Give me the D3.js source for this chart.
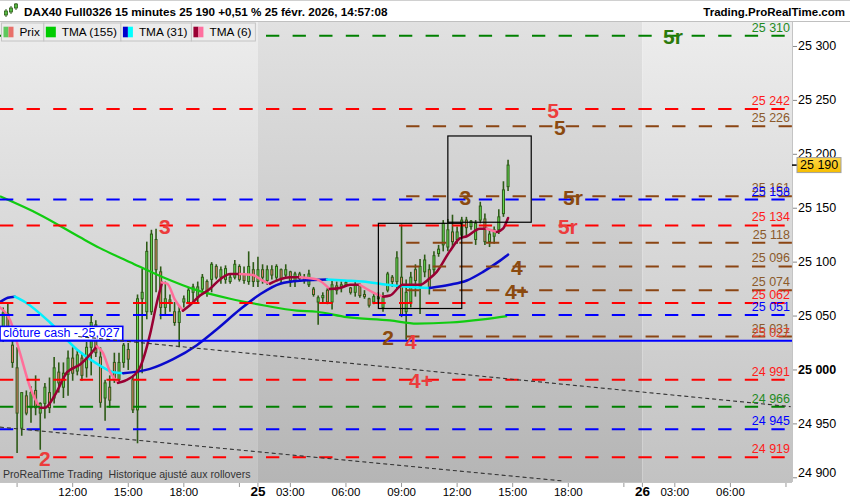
<!DOCTYPE html>
<html><head><meta charset="utf-8">
<script src="https://cdn.jsdelivr.net/npm/d3@7"></script>
<style>
html,body{margin:0;padding:0;background:#fff;}
svg{display:block;font-family:"Liberation Sans",Arial,sans-serif;}
</style></head><body>
<svg id="c" width="850" height="500"></svg>
<script>
// ---------------- DATA ----------------
const title = "DAX40 Full0326 15 minutes 25 190 +0,51 % 25 févr. 2026, 14:57:08";
const brand = "Trading.ProRealTime.com";
const footNote = "ProRealTime Trading  Historique ajusté aux rollovers";
const legendNames = ["Prix", "TMA (155)", "TMA (31)", "TMA (6)"];
const lastPrice = 25190;

// 15-minute candles, first bar = 24 Feb 08:15 (session 01:15-22:00)
const opens = [25035,25052,25023,25002,24946,24976,24965,24981,24960,24969,24979,24974,24998,24984,24996,25011,24999,25011,25002,25021,25042,25012,24974,24984,25007,24991,25007,25019,24991,24963,25066,25054,25054,25121,25091,25058,25065,25054,25044,25063,25063,25072,25068,25075,25082,25084,25096,25086,25084,25082,25086,25096,25089,25082,25093,
 25082,25093,25083,25093,25086,25093,25088,25091,25082,25089,25085,25079,25075,25063,25067,25074,25063,25078,25077,25079,25076,25072,25078,25070,25066,25063,25069,25058,25074,25086,25082,25086,25054,25063,25093,25077,25091,25093,25093,25108,25116,25114,25128,25121,25125,25139,25133,25121,25139,25140,25119,25124,25130,25145,25170];
const highs = [25058,25063,25030,25021,24979,24981,24985,24995,24970,24988,24993,25012,25007,25007,25018,25021,25018,25016,25026,25051,25046,25021,24991,24995,25016,25016,25025,25025,24995,25070,25094,25119,25130,25131,25096,25082,25070,25063,25060,25069,25077,25080,25082,25089,25084,25100,25098,25096,25097,25089,25102,25098,25096,25110,25100,
 25105,25098,25097,25097,25098,25094,25098,25092,25091,25091,25089,25093,25077,25069,25072,25076,25083,25082,25082,25083,25077,25082,25080,25074,25067,25071,25072,25072,25091,25088,25110,25135,25084,25091,25098,25103,25107,25098,25110,25116,25139,25140,25144,25133,25142,25142,25139,25139,25156,25145,25130,25133,25149,25175,25195];
const lows = [25026,25035,25002,24923,24939,24958,24951,24958,24926,24955,24960,24969,24979,24974,24976,24990,24995,24990,24993,24995,25012,24965,24953,24965,24988,24988,25002,25000,24960,24932,24997,25047,25051,25072,25047,25051,25054,25041,25021,25058,25061,25063,25063,25072,25068,25072,25084,25080,25080,25080,25084,25082,25080,25079,25077,
 25077,25080,25079,25084,25082,25080,25086,25077,25077,25082,25080,25077,25068,25042,25063,25061,25056,25070,25072,25077,25070,25068,25067,25066,25058,25061,25063,25054,25072,25077,25075,25049,25028,25058,25068,25052,25086,25070,25089,25105,25110,25110,25114,25117,25122,25125,25130,25116,25136,25116,25114,25117,25126,25142,25166];
const closes = [25053,25040,25007,24960,24979,24960,24979,24965,24969,24984,24965,25002,24988,24997,25011,24997,25014,24995,25021,25044,25016,24970,24988,24972,24991,25007,25023,25010,24963,25066,25072,25110,25126,25093,25058,25066,25063,25044,25054,25066,25074,25077,25077,25086,25072,25098,25086,25093,25094,25086,25098,25084,25083,25096,25082,
 25093,25086,25093,25088,25096,25085,25093,25083,25089,25085,25083,25089,25070,25067,25069,25063,25079,25074,25079,25081,25072,25079,25069,25068,25060,25068,25066,25069,25089,25082,25104,25051,25072,25086,25083,25096,25102,25077,25106,25112,25136,25130,25119,25128,25139,25132,25138,25136,25152,25119,25126,25130,25142,25167,25190];

// moving averages (bar position, value)
const tma6Bars = [-0.7,1.5,3.6,5.8,7.9,9.0,11.2,13.8,16.6,18.7,20.2,21.5,23.1,24.8,26.3,28.5,29.5,31.7,33.2,34.3,35.4,37.1,38.8,40.3,42.5,44.6,46.8,49.0,51.1,53.9,55.9,57.6,59.7,61.9,64.1,67.7,70.5,72.7,74.9,77.0,79.8,82.0,83.5,86.3,90.0,92.1,93.6,96.4,98.6,100.1,102.9,104.4,106.6,107.9,109.0];
const tma6Vals = [25058,25046,25016,24984,24965,24965,24977,24998,25005,25014,25022,25016,24998,24988,24990,24996,25002,25033,25063,25081,25080,25065,25055,25060,25069,25075,25084,25089,25089,25088,25083,25080,25084,25086,25086,25084,25075,25076,25079,25079,25072,25068,25069,25079,25079,25085,25091,25110,25122,25124,25131,25131,25128,25131,25141];
const tma31Bars = [-0.7,1.0,2.5,4.7,10.1,15.9,20.9,23.7,25.9,31.7,36.7,41.8,46.2,51.1,55.4,59.8,64.7,69.9,73.8,77.7,82.9,87.8,92.1,96.4,100.1,103.6,106.8,109.0];
const tma31Vals = [25063,25067,25068,25063,25044,25019,25004,24998,24997,25001,25010,25023,25038,25056,25070,25080,25083,25084,25083,25082,25079,25077,25076,25079,25083,25091,25100,25107];
const tma155Bars = [-0.7,7.9,16.6,20.9,27.4,34.5,41.8,49.0,56.1,63.4,67.7,74.2,83.5,89.3,96.4,103.6,108.8];
const tma155Vals = [25161,25144,25123,25113,25100,25086,25074,25066,25060,25055,25054,25049,25046,25043,25044,25047,25050];

// horizontal levels
const levelValues = [25310,25242,25226,25161,25158,25134,25118,25096,25074,25062,25051,25031,25027,24991,24966,24945,24919];
const levelKinds  = ["green","red","brown","brown","blue","red","brown","brown","brown","red","blue","brown","cash","red","green","blue","red"];
const brownFrom = {day:25, time:"09:15"};
const cashText = "clôture cash - 25,027";

// level marks
const markTexts  = ["5r","5","5","5r","3","5r","3","4","4+","2","4","4+","2"];
const markKinds  = ["green","red","brown","brown","brown","red","red","brown","brown","brown","red","red","red"];
const markBars   = [144.6,118.7,120.2,123.0,99.8,121.9,34.9,110.9,110.9,83.1,88.0,90.2,9.0];
const markValues = [25310,25242,25226,25161,25161,25134,25134,25096,25074,25031,25027,24991,24919];

// rectangles
const boxFrom = [81, 96], boxTo = [99, 114], boxLow = [25057, 25137], boxHigh = [25136, 25217];
// trend lines
const trendFromBar = [16.2, -0.7], trendFromVal = [25031, 24947];
const trendToBar = [170, 121],   trendToVal = [24966, 24897];

// axes
const yTicks = [24900,24950,25000,25050,25100,25150,25200,25250,25300];
const xTickDays  = [24,24,24,24,24,25,25,25,25,25,25,25,25,26,26,26,26];
const xTickTimes = ["09:00","12:00","15:00","18:00","21:00","01:15","03:00","06:00","09:00","12:00","15:00","18:00","21:00","01:15","03:00","06:00","09:00"];
const xTickLabels= ["","12:00","15:00","18:00","","25","03:00","06:00","09:00","12:00","15:00","18:00","","26","03:00","06:00",""];

// ---------------- CHART ----------------
const W=850,H=500,PL=0,PR=792,PT=22,PB=482;
function barOf(day, hhmm){ const [h,m]=hhmm.split(":").map(Number); return ((day-24)*20.75 + h + m/60 - 8.25)*4; }
const x = d3.scaleLinear().domain([-0.69,170.3]).range([PL,PR]);
const y = d3.scaleLinear().domain([24896.1,25322.7]).range([PB,PT]);
const fmt = v => d3.format(",")(v).replace(/,/g," ");

const lineColor = {green:"#008000", red:"#ff0000", brown:"#8b4513", blue:"#0000ff", cash:"#0000ff"};
const textColor = {green:"#1f8a1f", red:"#ff1a1a", brown:"#8b5a2b", blue:"#0000ff", cash:"#e0402a"};
const markColor = {green:"#2b7a0b", red:"#ec3c3c", brown:"#8b4a0f"};

const svg = d3.select("#c");
const defs = svg.append("defs");
function grad(id,c1,c2){const g=defs.append("linearGradient").attr("id",id).attr("x1",0).attr("y1",0).attr("x2",0).attr("y2",1);
 g.append("stop").attr("offset","0%").attr("stop-color",c1); g.append("stop").attr("offset","100%").attr("stop-color",c2);}
grad("gLight","#ededed","#c2c2c2");
grad("gDark","#e1e1e1","#b5b5b5");
grad("gTag","#ffd84a","#f5bd00");
defs.append("clipPath").attr("id","pc").append("rect").attr("x",PL).attr("y",PT).attr("width",PR-PL).attr("height",PB-PT);

svg.append("rect").attr("width",W).attr("height",H).attr("fill","#fff");
const plot = svg.append("g").attr("clip-path","url(#pc)");

// background day bands
const bnds=[PL, x(barOf(25,"01:15")), x(barOf(26,"01:15")), PR];
[0,1,2].forEach(k=>plot.append("rect").attr("x",bnds[k]).attr("y",PT).attr("width",bnds[k+1]-bnds[k]).attr("height",PB-PT)
  .attr("fill",k===1?"url(#gDark)":"url(#gLight)"));

// candles
const candles = opens.map((o,i)=>({i,o,h:highs[i],l:lows[i],c:closes[i]}));
const cg = plot.append("g");
cg.selectAll("line").data(candles).join("line")
  .attr("x1",d=>x(d.i)).attr("x2",d=>x(d.i)).attr("y1",d=>y(d.h)).attr("y2",d=>y(d.l))
  .attr("stroke","#2d5a16").attr("stroke-width",1.6);
cg.selectAll("rect").data(candles).join("rect")
  .attr("x",d=>x(d.i)-1).attr("width",2)
  .attr("y",d=>y(Math.max(d.o,d.c))).attr("height",d=>Math.max(1,Math.abs(y(d.o)-y(d.c))))
  .attr("fill",d=>d.c>=d.o?"#66dd55":"#e8806e").attr("stroke","#2d5a16").attr("stroke-width",1);

// moving averages
const lineGen = d3.line().x(d=>x(d[0])).y(d=>y(d[1])).curve(d3.curveMonotoneX);
function runs(bars,vals){
  const pts=bars.map((b,i)=>[b,vals[i]]); const out=[]; let cur=[pts[0]], dir=null;
  for(let k=1;k<pts.length;k++){
    const d = pts[k][1]>=pts[k-1][1]?1:-1;
    if(dir===null||d===dir){cur.push(pts[k]);dir=d;}
    else {out.push({dir,pts:cur}); cur=[pts[k-1],pts[k]]; dir=d;}
  }
  out.push({dir,pts:cur}); return out;
}
function drawMA(bars,vals,up,down,w){
  runs(bars,vals).forEach(r=>plot.append("path").attr("d",lineGen(r.pts)).attr("fill","none")
    .attr("stroke",r.dir>0?up:down).attr("stroke-width",w).attr("stroke-linejoin","round").attr("stroke-linecap","round"));
}
plot.append("path").attr("d",lineGen(tma155Bars.map((b,i)=>[b,tma155Vals[i]]))).attr("fill","none").attr("stroke","#11cc11").attr("stroke-width",2.2);
drawMA(tma31Bars,tma31Vals,"#0a0acc","#00f0ff",2.5);
drawMA(tma6Bars,tma6Vals,"#990033","#ff6f9a",2.5);

// horizontal levels
const brownStart = barOf(brownFrom.day, brownFrom.time);
levelValues.forEach((v,k)=>{
  const kind=levelKinds[k];
  const x0 = kind==="brown"? x(brownStart) : PL;
  const ln = plot.append("line").attr("x1",x0).attr("x2",PR).attr("y1",y(v)).attr("y2",y(v))
    .attr("stroke",lineColor[kind]).attr("stroke-width",2);
  if(kind!=="cash") ln.attr("stroke-dasharray","13.3,13.3");
});

// cash label
const cashY = y(levelValues[levelKinds.indexOf("cash")]);
const cashG = plot.append("g");
const cashTxt = cashG.append("text").attr("x",3).attr("y",cashY-3.5).attr("font-size",12.5).attr("fill","#0000ff").text(cashText);
const tw = cashTxt.node().getComputedTextLength();
cashG.insert("rect","text").attr("x",0).attr("y",cashY-14.5).attr("width",tw+6).attr("height",14)
  .attr("fill","#fff").attr("stroke","#0000ff").attr("stroke-width",1.6);

// trend lines
trendFromBar.forEach((b,k)=>plot.append("line").attr("x1",x(b)).attr("y1",y(trendFromVal[k]))
  .attr("x2",x(trendToBar[k])).attr("y2",y(trendToVal[k])).attr("stroke","#333").attr("stroke-width",1.1).attr("stroke-dasharray","4,3"));

// boxes
boxFrom.forEach((b,k)=>plot.append("rect").attr("x",x(b)).attr("y",y(boxHigh[k])).attr("width",x(boxTo[k])-x(b))
  .attr("height",y(boxLow[k])-y(boxHigh[k])).attr("fill","none").attr("stroke","#000").attr("stroke-width",1.2));

// level value labels at right
levelValues.forEach((v,k)=>plot.append("text").attr("x",790).attr("y",y(v)-4).attr("text-anchor","end")
  .attr("font-size",12.5).attr("fill",textColor[levelKinds[k]]).text(fmt(v)));

// big marks
markTexts.forEach((t,k)=>plot.append("text").attr("x",x(markBars[k])).attr("y",y(markValues[k])+1)
  .attr("text-anchor","middle").attr("dominant-baseline","central").attr("font-size",21).attr("font-weight","bold")
  .attr("fill",markColor[markKinds[k]]).text(t));

// foot note
plot.append("text").attr("x",3).attr("y",478).attr("font-size",10.6).attr("fill","#333").style("white-space","pre").text(footNote);

// axis frames
svg.append("line").attr("x1",PR+0.5).attr("x2",PR+0.5).attr("y1",PT).attr("y2",PB).attr("stroke","#c4c4c4");
svg.append("line").attr("x1",0).attr("x2",PR).attr("y1",PB+0.5).attr("y2",PB+0.5).attr("stroke","#c4c4c4");

// y axis
yTicks.forEach(v=>{
  const yy=y(v);
  svg.append("line").attr("x1",PR+1).attr("x2",PR+5).attr("y1",yy).attr("y2",yy).attr("stroke","#888");
  svg.append("text").attr("x",798).attr("y",Math.min(yy,473)).attr("dominant-baseline","central")
    .attr("font-size",12.5).attr("font-weight",v===25000?"bold":"normal").attr("fill","#000").text(fmt(v));
});
// last price tag
const ly=y(lastPrice);
svg.append("line").attr("x1",PR).attr("x2",797).attr("y1",ly).attr("y2",ly).attr("stroke","#000").attr("stroke-width",1.5);
svg.append("rect").attr("x",797).attr("y",ly-7.5).attr("width",44).attr("height",15).attr("fill","url(#gTag)").attr("stroke","#a0a0a0");
svg.append("text").attr("x",800).attr("y",ly).attr("dominant-baseline","central").attr("font-size",12.5).attr("fill","#000").text(fmt(lastPrice));

// x axis
xTickDays.forEach((d,k)=>{
  const xx=x(barOf(d,xTickTimes[k]));
  svg.append("line").attr("x1",xx).attr("x2",xx).attr("y1",PB+1).attr("y2",PB+5).attr("stroke","#999");
  if(xTickLabels[k]) svg.append("text").attr("x",xx).attr("y",496).attr("text-anchor","middle")
    .attr("font-size",xTickLabels[k].includes(":")?11.5:13.5).attr("font-weight",xTickLabels[k].includes(":")?"normal":"bold")
    .attr("fill","#000").text(xTickLabels[k]);
});

// header
svg.append("rect").attr("x",0).attr("y",0).attr("width",W).attr("height",PT).attr("fill","#fff");
svg.append("line").attr("x1",0).attr("x2",W).attr("y1",PT-0.5).attr("y2",PT-0.5).attr("stroke","#c0c0c0");
svg.append("line").attr("x1",0).attr("x2",W).attr("y1",0.5).attr("y2",0.5).attr("stroke","#d0d0d0");
svg.append("text").attr("x",24).attr("y",16).attr("font-size",11.7).attr("font-weight","bold").attr("fill","#000").text(title);
svg.append("text").attr("x",845).attr("y",16).attr("text-anchor","end").attr("font-size",11.5).attr("font-weight","bold").attr("fill","#000").text(brand);
// small candle icon
const icon=[[6,9,17,11,15,"#55bb44"],[11,6,14,8,12,"#55bb44"],[16,3,10,4,8,"#55bb44"]];
icon.forEach(c=>{svg.append("line").attr("x1",c[0]).attr("x2",c[0]).attr("y1",c[1]).attr("y2",c[2]).attr("stroke","#2d5a16");
  svg.append("rect").attr("x",c[0]-1.5).attr("y",c[3]).attr("width",3).attr("height",c[4]-c[3]).attr("fill",c[5]).attr("stroke","#2d5a16").attr("stroke-width",0.8);});

// legend
const legSw = [["#5ec85e","#e8706a"],["#00cc00"],["#0000cc","#00ffff"],["#990033","#ff6f9f"]];
const lg = svg.append("g");
let lx = 1.5;
legendNames.forEach((nm,k)=>{
  const g=lg.append("g");
  const bg=g.append("rect").attr("x",lx).attr("y",PT+1).attr("height",18).attr("fill","#ececec").attr("stroke","#c4c4c4");
  const sw=legSw[k]; const sx=lx+2;
  sw.forEach((c,j)=>g.append("rect").attr("x",sx+j*10/sw.length).attr("y",26.7).attr("width",10/sw.length).attr("height",10.6).attr("fill",c));
  const t=g.append("text").attr("x",sx+16).attr("y",36).attr("font-size",11.8).attr("fill","#000").text(nm);
  const w=t.node().getComputedTextLength();
  const iw = 16+w+4;
  bg.attr("width",iw+2);
  lx += iw+2;
});
</script></body></html>
